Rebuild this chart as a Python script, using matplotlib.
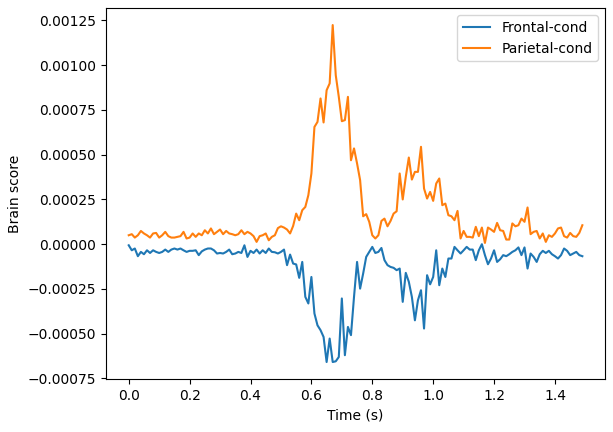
import numpy as np
import matplotlib
matplotlib.use("Agg")
import matplotlib.pyplot as plt

times = np.arange(150) / 100.0

# Values in units of 1e-5
parietal = np.array([
    5.0, 5.6, 3.7, 5.0, 7.4, 6.0, 5.0, 3.7, 6.0, 6.3, 3.7, 5.0, 6.9, 4.5, 3.7, 3.7, 4.1, 4.5, 6.9, 3.2, 3.7, 6.0, 4.1, 6.0, 5.0,
    7.8, 6.0, 8.8, 5.6, 6.9, 8.2, 5.6, 7.4, 6.0, 5.6, 5.0, 5.6, 7.8, 5.6, 6.9, 6.0, 4.5, 1.3, 4.5, 5.0, 6.0, 2.2, 4.1,
    5.0, 9.0, 10.0, 9.3, 8.2, 6.0, 10.2, 17.1, 13.4, 19.0, 20.8, 27.4, 39.5, 65.5, 68.3, 81.4, 68.0, 86.0, 89.8, 122.4, 94.4, 82.3, 68.7, 69.3, 82.3, 46.9, 53.5,
    45.1, 35.8, 15.6, 16.8, 12.5, 5.0, 3.2, 5.0, 13.0, 14.3, 10.0, 13.0, 17.1, 18.4, 39.5, 25.0, 37.6, 48.4, 36.1, 40.4, 40.4, 54.4, 31.1, 25.5, 29.2,
    24.2, 33.9, 36.7, 21.8, 22.7, 16.2, 15.6, 13.4, 18.6, 3.2, 7.4, 4.1, 4.1, 3.7, 9.7, 4.5, 9.3, 0.7, 9.3, 8.2, 6.9, 11.9,
    7.8, 7.4, 2.6, 2.6, 11.6, 10.0, 10.6, 14.3, 12.5, 20.5, 5.6, 6.9, 7.4, 3.2, 6.0, 1.3, 5.0, 4.1, 6.0, 8.8, 9.3, 4.5, 3.7, 6.3, 4.5, 4.1, 6.3, 10.6,
]) * 1e-5

frontal = np.array([
    -0.6, -3.4, -2.4, -6.7, -4.3, -5.6, -3.4, -4.9, -3.4, -4.3, -4.9, -4.3, -3.0, -4.3, -3.0, -2.4, -3.0, -2.4, -3.4, -4.3, -3.7, -3.7, -3.4, -6.1, -4.0,
    -3.0, -2.4, -2.4, -3.4, -5.2, -4.9, -5.2, -4.3, -3.0, -5.6, -5.2, -4.3, -4.9, -0.6, -7.1, -3.7, -4.9, -3.0, -5.2, -3.4, -4.9, -2.4, -4.3,
    -4.5, -5.2, -4.3, -3.0, -11.7, -5.8, -10.8, -11.3, -18.8, -9.9, -29.4, -33.1, -18.3, -38.7, -45.3, -48.0, -51.8, -65.8, -52.7, -65.8, -65.4, -63.0, -30.3, -62.0, -46.2, -50.8, -29.4,
    -9.9, -24.8, -16.4, -7.1, -4.3, -1.5, -4.9, -4.3, -2.1, -8.9, -11.7, -12.7, -13.2, -14.5, -13.6, -32.2, -16.0, -21.0, -29.4, -42.5, -31.3, -25.7, -47.1, -17.3, -22.4,
    -18.3, -3.4, -22.9, -13.6, -18.3, -8.0, -8.0, -1.5, -3.4, -5.2, -3.4, -1.5, -3.0, -3.0, -8.9, -3.4, 0.0, -6.1, -11.2, -8.0, -3.4, -9.9,
    -8.4, -6.1, -6.7, -5.6, -4.3, -3.4, -1.8, -6.1, -1.8, -13.6, -5.2, -7.1, -9.9, -5.6, -3.7, -4.9, -3.7, -5.6, -6.7, -8.0, -6.1, -2.4, -3.7, -6.1, -5.2, -4.3, -6.1, -6.7,
]) * 1e-5

labels = ["Frontal-cond", "Parietal-cond"]

fig, ax = plt.subplots(figsize=(6.13, 4.32), dpi=100)
fig.subplots_adjust(left=0.173, right=0.987, top=0.981, bottom=0.123)
ax.plot(times, frontal, label=labels[0])
ax.plot(times, parietal, label=labels[1])
ax.set_xlabel("Time (s)")
ax.set_ylabel("Brain score")
ax.legend(loc="upper right")
fig.savefig("out.png", dpi=100)
